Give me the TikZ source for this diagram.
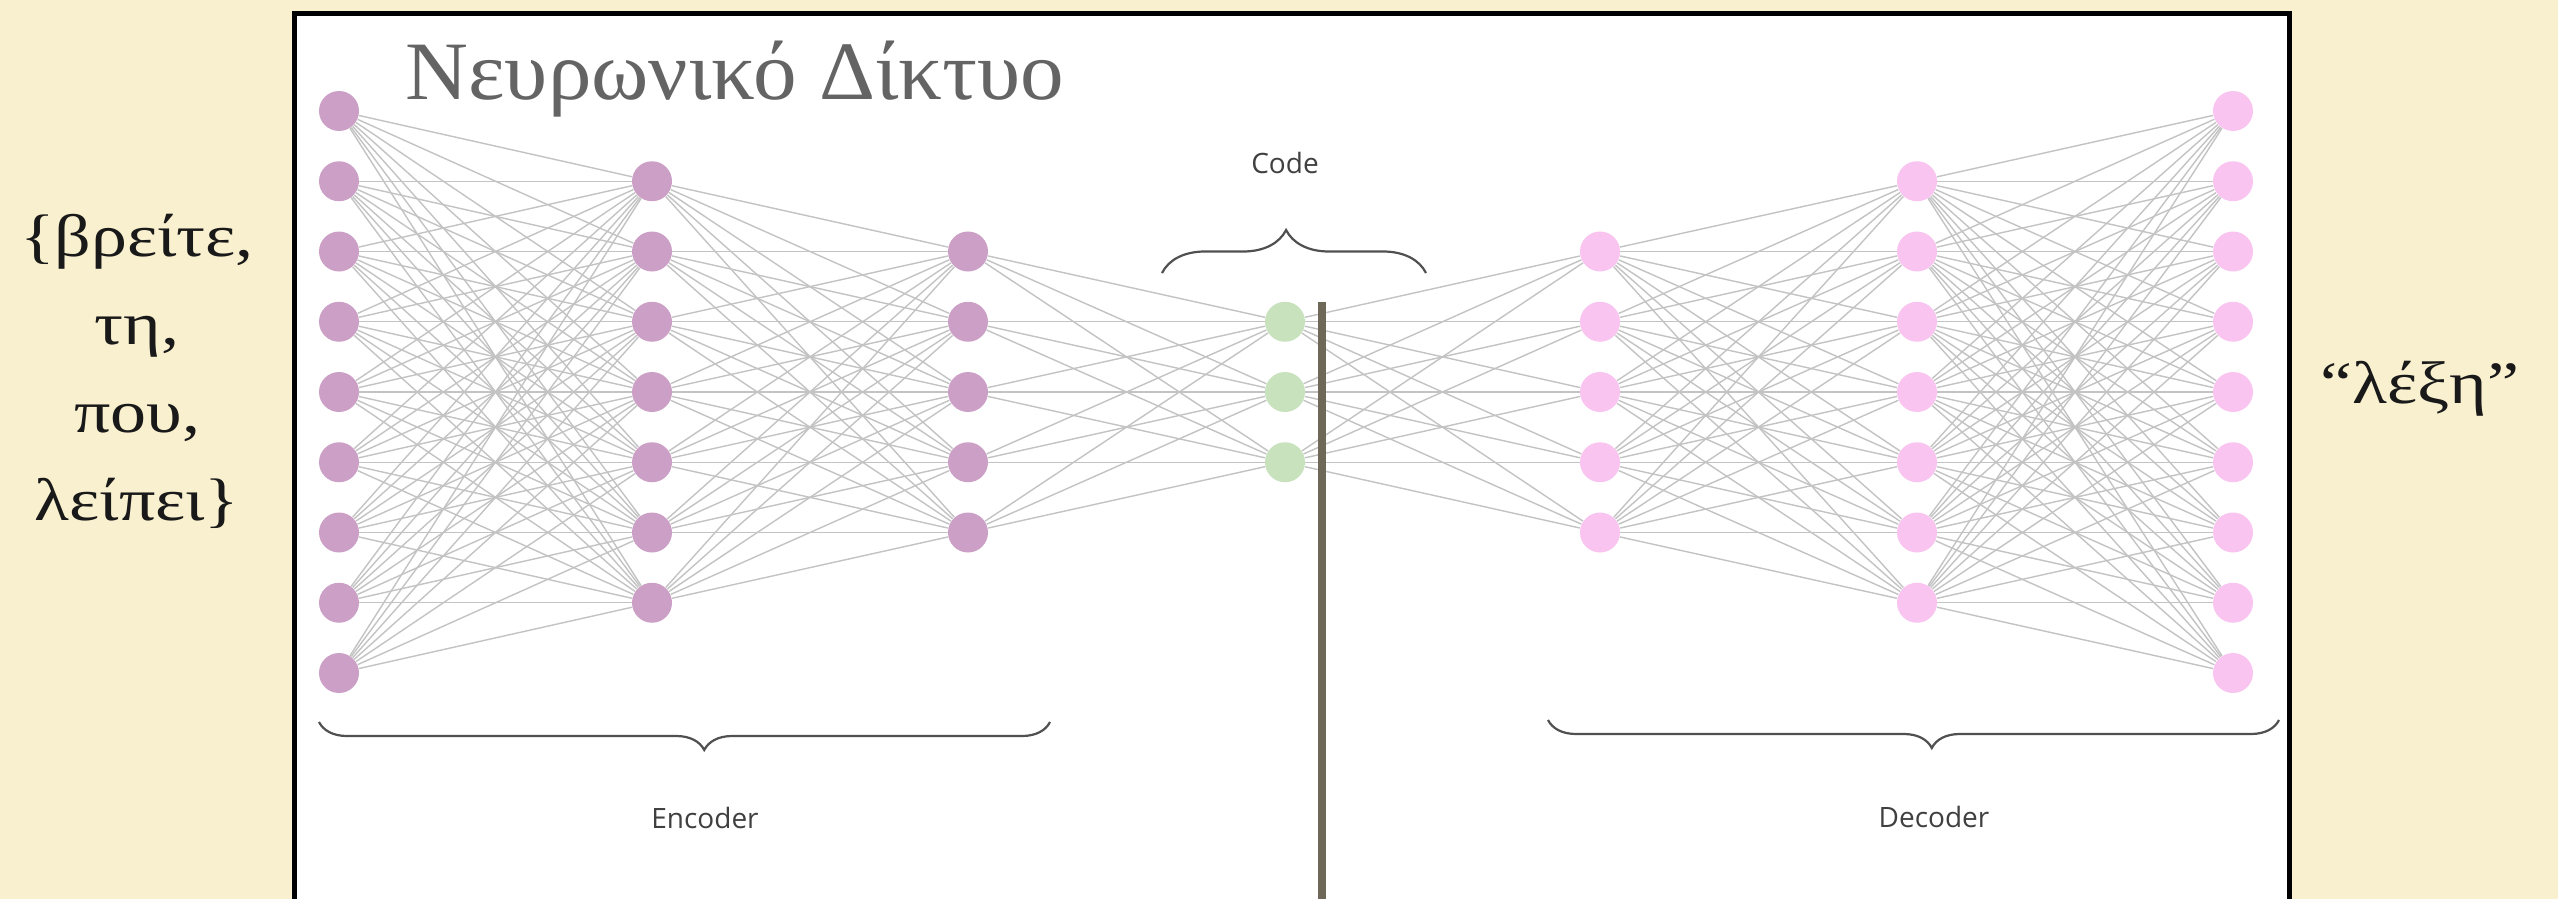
\documentclass[tikz,border=0pt]{standalone}
\usepackage{fontspec}
\setmainfont{Liberation Serif}
\newfontfamily\wideserif[FakeStretch=1.2]{Liberation Serif}
\newfontfamily\titleserif[FakeStretch=1.05]{Liberation Serif}
\newfontfamily\labfont{Open Sans}
\usetikzlibrary{decorations.pathreplacing}
\definecolor{bgcream}{RGB}{249,240,207}
\definecolor{encc}{RGB}{204,160,198}
\definecolor{decc}{RGB}{250,196,240}
\definecolor{codec}{RGB}{200,226,190}
\definecolor{edgec}{RGB}{195,195,195}
\definecolor{titlec}{RGB}{100,100,100}
\definecolor{barc}{RGB}{110,104,88}
\definecolor{bracec}{RGB}{80,80,80}
\begin{document}
\begin{tikzpicture}[x=0.5pt,y=-0.5pt,
  neuron/.style={circle,minimum size=20pt,inner sep=0pt,draw=none},
  edge/.style={draw=edgec,line width=0.7pt},
  bracestyle/.style={draw=bracec,line width=1.1pt,decorate},
  lab/.style={font=\labfont\fontsize{14}{16}\selectfont,text=black!75},
  greek/.style={font=\wideserif\fontsize{30}{36}\selectfont,text=black!90,anchor=base,inner sep=0pt}]
\useasboundingbox (0,0) rectangle (2558,899);
\clip (0,0) rectangle (2558,899);
\fill[bgcream] (0,0) rectangle (2558,899);
\draw[line width=2.5pt,fill=white] (294.5,13.5) rectangle (2289.5,1000);
% neurons
\foreach \L/\X/\N/\C in {1/339/9/encc,2/652/7/encc,3/968/5/encc,4/1285/3/codec,5/1600/5/decc,6/1917/7/decc,7/2233/9/decc}{
  \foreach \j in {1,...,\N}{
    \node[neuron,fill=\C] (n\L-\j) at (\X,{392+(\j-(\N+1)/2)*70.25}) {};
  }
}
% connections
\foreach \L/\N/\M in {1/9/7,2/7/5,3/5/3,4/3/5,5/5/7,6/7/9}{
  \pgfmathtruncatemacro\Lnext{\L+1}
  \foreach \a in {1,...,\N}{
    \foreach \b in {1,...,\M}{
      \draw[edge] (n\L-\a) -- (n\Lnext-\b);
    }
  }
}
% vertical bar
\draw[barc,line width=4pt] (1322,302) -- (1322,905);
% braces
\coordinate (cbl) at (1162,273);
\coordinate (cbr) at (1426,273);
\draw[bracestyle,decoration={brace,amplitude=21.5pt,aspect=0.47}] (cbl) -- (cbr);
\coordinate (ebl) at (319,722);
\coordinate (ebr) at (1050,722);
\draw[bracestyle,decoration={brace,amplitude=14pt,aspect=0.473}] (ebr) -- (ebl);
\coordinate (dbl) at (1548,720);
\coordinate (dbr) at (2279,720);
\draw[bracestyle,decoration={brace,amplitude=14pt,aspect=0.475}] (dbr) -- (dbl);
% labels
\node[lab] (codelab) at (1285,163) {Code};
\node[lab] (enclab) at (705,818) {Encoder};
\node[lab] (declab) at (1934,817) {Decoder};
% title
\node[anchor=base west,inner sep=0pt,font=\titleserif\fontsize{41.5}{48}\selectfont,text=titlec] (title) at (405,100) {Νευρωνικό Δίκτυο};
% left words
\node[greek] (w1) at (137,256) {\{βρείτε,};
\node[greek] (w2) at (137,344) {τη,};
\node[greek] (w3) at (137,432) {που,};
\node[greek] (w4) at (137,520) {λείπει\}};
% right word
\node[greek] (out) at (2420,403) {“λέξη”};
\end{tikzpicture}
\end{document}
